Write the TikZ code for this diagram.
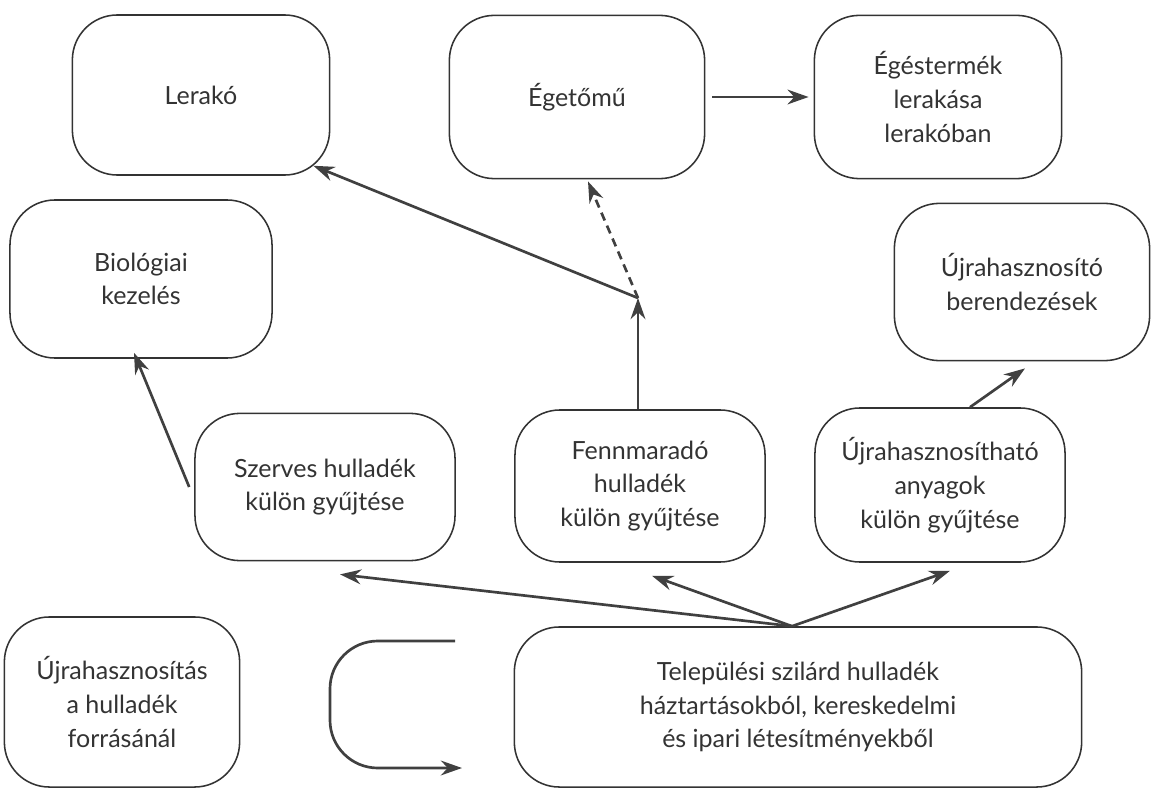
\documentclass[tikz,border=0pt]{standalone}
\usepackage{fontspec}
\setmainfont{Lato}
\usetikzlibrary{arrows.meta}
\usetikzlibrary{calc}
\tikzstyle{box} = [draw=black!80, line width=1.1pt, rounded corners=32pt, align=center, inner sep=0pt, text=black!80, font=\fontsize{17.8}{24}\selectfont]
\tikzstyle{arrow} = [-{Stealth[length=15pt, width=10.5pt]}, line width=1.9pt, black!75]

\begin{document}
\begin{tikzpicture}[x=0.025cm, y=-0.025cm]

  \useasboundingbox (0,0) rectangle (1152,788);

  % top row
  \node[box, minimum width=6.43cm, minimum height=4.0cm] (lerako) at (201,95) {Lerakó};
  \node[box, minimum width=6.38cm, minimum height=4.08cm] (egeto) at (577,97) {Égetőmű};
  \node[box, minimum width=6.18cm, minimum height=4.08cm] (egester) at (938,97) {Égéstermék\\lerakása\\lerakóban};

  % second row
  \node[box, minimum width=6.55cm, minimum height=3.95cm] (bio) at (141,279) {Biológiai\\kezelés};
  \node[box, minimum width=6.38cm, minimum height=3.93cm] (ujraber) at (1022,282) {Újrahasznosító\\berendezések};

  % collection
  \node[box, minimum width=6.5cm, minimum height=3.68cm] (szerves) at (325,487) {Szerves hulladék\\külön gyűjtése};
  \node[box, minimum width=6.25cm, minimum height=3.8cm] (fenn) at (640,486) {Fennmaradó\\hulladék\\külön gyűjtése};
  \node[box, minimum width=6.25cm, minimum height=3.85cm] (ujrah) at (940,485) {Újrahasznosítható\\anyagok\\külön gyűjtése};

  % bottom row
  \node[box, minimum width=5.88cm, minimum height=4.25cm] (forras) at (122,702) {Újrahasznosítás\\a hulladék\\forrásánál};
  \node[box, minimum width=14.18cm, minimum height=4.0cm] (telep) at (798,707) {Települési szilárd hulladék\\háztartásokból, kereskedelmi\\és ipari létesítményekből};

  \coordinate (src) at ($(telep.north)+(-6,0)$);
  \coordinate (split) at (638,298);
  \coordinate (loopin) at (455,641);
  \coordinate (loopout) at (462,768);

  % arrows
  \draw[arrow] (src) -- ($(szerves.south)+(15,13)$);
  \draw[arrow] (src) -- ($(fenn.south)+(12,13)$);
  \draw[arrow] (src) -- ($(ujrah.south)+(10,8)$);
  \draw[arrow] ($(szerves.west)+(-5,0)$) -- ($(bio.south)+(-7,-6)$);
  \draw[arrow] (fenn.north -| split) -- (split);
  \draw[arrow] (split) -- ($(lerako.south east)+(-17,-10)$);
  \draw[arrow, dashed, dash pattern=on 6pt off 4pt] (split) -- ($(egeto.south)+(11,2)$);
  \draw[arrow] (egeto.east) ++(7,0) -- ($(egester.west)+(-5,0)$);
  \draw[arrow] ($(ujrah.north)+(30,0)$) -- ($(ujraber.south)+(3,7)$);
  \draw[arrow, rounded corners=34pt] (loopin) -- (330,641) -- (330,768) -- (loopout);

\end{tikzpicture}
\end{document}
